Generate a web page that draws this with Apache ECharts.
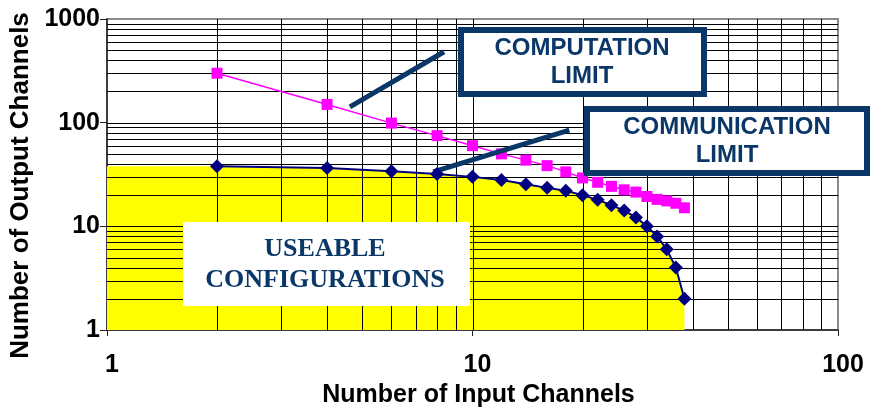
<!DOCTYPE html>
<html><head><meta charset="utf-8">
<script src="https://cdn.jsdelivr.net/npm/echarts@6/dist/echarts.min.js"></script>
<style>html,body{margin:0;padding:0;background:#fff}#c{width:876px;height:410px}</style>
</head><body><div id="c"></div>
<script>
// ---- data ----
const inputChannels = [2,4,6,8,10,12,14,16,18,20,22,24,26,28,30,32,34,36,38];
const computationLimit = [300,150,99,75,60,50,43.5,38.5,33.5,29.3,26.6,24.3,22.5,21.4,19.4,18.2,17.6,16.7,15.1];
const communicationLimit = [38,36.5,34,32,30,28,25.5,23.5,22,20,18,16,14.2,12.2,10,8,6,4,2];
const useableX = [1,2,4,6,8,10,12,14,16,18,20,22,24,26,28,30,32,34,36,38,38];
const useableY = [38,38,36.5,34,32,30,28,25.5,23.5,22,20,18,16,14.2,12.2,10,8,6,4,2,1];
const xGridValues = [2,3,4,5,6,7,8,9,10,20,30,40,50,60,70,80,90];
const yGridValues = [2,3,4,5,6,7,8,9,10,20,30,40,50,60,70,80,90,100,200,300,400,500,600,700,800,900];
const xTickLabels = ['1','10','100'];
const yTickLabels = ['1','10','100','1000'];
const computationPointer = [[4.62,142],[8.36,483]];
const communicationPointer = [[7.81,33.6],[18.4,84.9]];

const NAVY = '#0a3768';
const chart = echarts.init(document.getElementById('c'), null, {renderer:'canvas'});

function vGrid(params, api){
  const v = api.value(0);
  const a = api.coord([v, 1000]);
  const b = api.coord([v, 1]);
  const x = Math.round(a[0]) + 0.5;
  return {type:'line', shape:{x1:x, y1:a[1], x2:x, y2:b[1]}, style:{stroke:'#000', lineWidth:1}};
}
function hGrid(params, api){
  const v = api.value(1);
  const a = api.coord([1, v]);
  const b = api.coord([100, v]);
  const y = Math.round(a[1]) + 0.5;
  return {type:'line', shape:{x1:a[0], y1:y, x2:b[0], y2:y}, style:{stroke:'#000', lineWidth:1}};
}

const labelFont = {fontFamily:'"Liberation Sans", Arial, sans-serif', fontWeight:'bold', color:'#000'};

chart.setOption({
  animation:false,
  grid:{left:107, right:38, top:19, bottom:80, show:true, borderColor:'#8a8a8a', borderWidth:2, backgroundColor:'#fff', outerBoundsMode:'none', containLabel:false},
  xAxis:{
    type:'log', logBase:10, min:1, max:100,
    axisLine:{show:true, lineStyle:{color:'#222', width:1.5}},
    axisTick:{show:true, length:6, lineStyle:{color:'#222'}},
    splitLine:{show:false},
    axisLabel:Object.assign({fontSize:25, margin:23, padding:[0,0,0,10], formatter:(v)=>xTickLabels[Math.round(Math.log10(v))]}, labelFont),
    name:'Number of Input Channels', nameLocation:'middle', nameGap:50,
    nameTextStyle:Object.assign({fontSize:25, padding:[0,0,0,12]}, labelFont)
  },
  yAxis:{
    type:'log', logBase:10, min:1, max:1000,
    axisLine:{show:true, lineStyle:{color:'#222', width:1.5}},
    axisTick:{show:true, length:7, lineStyle:{color:'#222'}},
    splitLine:{show:false},
    axisLabel:Object.assign({fontSize:25, margin:7, formatter:(v)=>yTickLabels[Math.round(Math.log10(v))]}, labelFont),
    name:'Number of Output Channels', nameLocation:'middle', nameGap:67, nameRotate:90,
    nameTextStyle:Object.assign({fontSize:26, padding:[0,22,0,0]}, labelFont)
  },
  series:[
    {
      type:'line', z:1, silent:true,
      data:useableX.map((x,i)=>[x, useableY[i]]),
      showSymbol:false, lineStyle:{width:0},
      areaStyle:{color:'#ffff00', opacity:1, origin:'start'}
    },
    {
      type:'custom', z:2, silent:true, renderItem:vGrid,
      data:xGridValues.map(v=>[v,1])
    },
    {
      type:'custom', z:2, silent:true, renderItem:hGrid,
      data:yGridValues.map(v=>[1,v])
    },
    {
      type:'line', z:4, name:'Computation',
      data:inputChannels.map((x,i)=>[x, computationLimit[i]]),
      symbol:'rect', symbolSize:11,
      itemStyle:{color:'#ff00ff'}, lineStyle:{color:'#ff00ff', width:1.5},
      markLine:{
        silent:true, symbol:['none','none'], label:{show:false},
        lineStyle:{color:NAVY, width:5, type:'solid'},
        data:[
          [{coord:computationPointer[0]},{coord:computationPointer[1]}],
          [{coord:communicationPointer[0]},{coord:communicationPointer[1]}]
        ]
      }
    },
    {
      type:'line', z:5, name:'Communication',
      data:inputChannels.map((x,i)=>[x, communicationLimit[i]]),
      symbol:'diamond', symbolSize:14,
      itemStyle:{color:'#000080'}, lineStyle:{color:'#000080', width:2}
    }
  ],
  graphic:[
    {type:'rect', z:100, shape:{x:461, y:30, width:243, height:64}, style:{fill:'#fff', stroke:NAVY, lineWidth:6}},
    {type:'text', z:101, x:582, y:62, style:{text:'COMPUTATION\nLIMIT', font:'bold 24px "Liberation Sans", Arial, sans-serif', fill:NAVY, textAlign:'center', textVerticalAlign:'middle', lineHeight:28}},
    {type:'rect', z:100, shape:{x:587, y:109, width:280, height:64}, style:{fill:'#fff', stroke:NAVY, lineWidth:6}},
    {type:'text', z:101, x:727, y:141, style:{text:'COMMUNICATION\nLIMIT', font:'bold 24px "Liberation Sans", Arial, sans-serif', fill:NAVY, textAlign:'center', textVerticalAlign:'middle', lineHeight:28}},
    {type:'rect', z:100, shape:{x:183, y:222, width:287, height:84}, style:{fill:'#fff'}},
    {type:'text', z:101, x:325, y:265, style:{text:'USEABLE\nCONFIGURATIONS', font:'bold 26px "Liberation Serif", "Times New Roman", serif', fill:NAVY, textAlign:'center', textVerticalAlign:'middle', lineHeight:31}}
  ]
});
</script>
</body></html>
